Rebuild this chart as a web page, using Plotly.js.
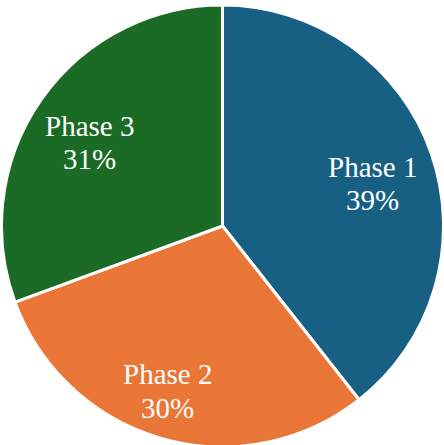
<!DOCTYPE html>
<html>
<head>
<meta charset="utf-8">
<script src="https://cdn.plot.ly/plotly-3.0.1.min.js"></script>
<style>html,body{margin:0;padding:0;background:#fff;overflow:hidden;width:444px;height:445px;}#chart{width:444px;height:447px;}</style>
</head>
<body>
<div id="chart"></div>
<script>
const phases = ["Phase 1", "Phase 2", "Phase 3"];
const shares = [39.4, 30.0, 30.6];
const colors = ["#176083", "#e97536", "#1b6b27"];

// label placement (radial fraction of radius, angular nudge in degrees)
const labelPlace = [{r: 0.707, da: 3.4}, {r: 0.786, da: 2.5}, {r: 0.711, da: -2.7}];

const W = 444, H = 447;
const M = {l: 1, r: 0, t: 5, b: 0};
const R = Math.min(W - M.l - M.r, H - M.t - M.b) / 2;
const total = shares.reduce((a, b) => a + b, 0);
const fontSpec = {family: "'Liberation Serif', 'Times New Roman', serif", size: 29, color: "#ffffff"};

const annotations = [];
let cum = 0;
shares.forEach((v, i) => {
  const mid = (cum + v / 2) / total * 360 + labelPlace[i].da;
  cum += v;
  const rad = mid * Math.PI / 180;
  const dx = labelPlace[i].r * R * Math.sin(rad);
  const dyUp = labelPlace[i].r * R * Math.cos(rad);
  const pct = Math.round(v / total * 100) + "%";
  [[phases[i], 16.7], [pct, -16.7]].forEach(([txt, off]) => {
    annotations.push({
      xref: "paper", yref: "paper", x: 0.5, y: 0.5,
      xshift: dx, yshift: dyUp + off,
      xanchor: "center", yanchor: "middle",
      text: txt, showarrow: false, font: fontSpec
    });
  });
});

Plotly.newPlot("chart", [{
  type: "pie",
  labels: phases,
  values: shares,
  sort: false,
  direction: "clockwise",
  rotation: 0,
  marker: {colors: colors, line: {color: "#ffffff", width: 3}},
  textinfo: "none",
  hoverinfo: "none"
}], {
  width: W, height: H,
  margin: M,
  showlegend: false,
  paper_bgcolor: "#ffffff",
  annotations: annotations
}, {staticPlot: true});
</script>
</body>
</html>
